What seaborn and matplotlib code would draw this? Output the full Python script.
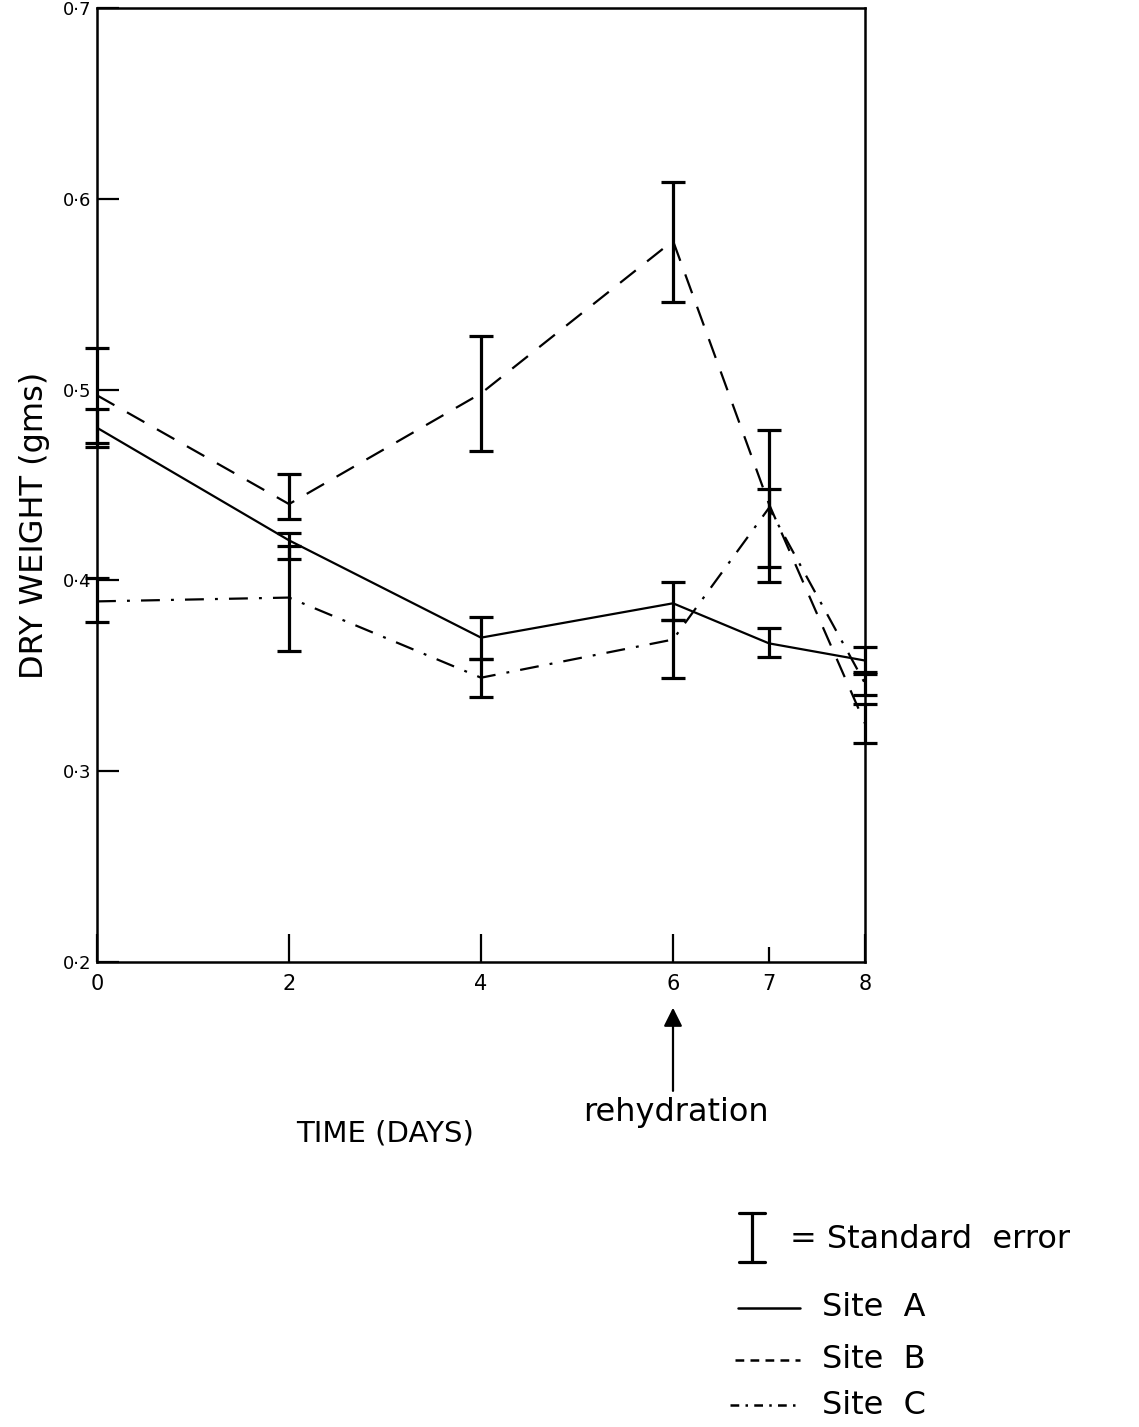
import matplotlib
matplotlib.use("Agg")
import matplotlib.pyplot as plt
from matplotlib.lines import Line2D
import pandas as pd
import seaborn as sns

# Sampling days
days = [0, 2, 4, 6, 7, 8]

# Mean dry weight (g) per site
site_a = [0.480, 0.421, 0.370, 0.388, 0.367, 0.358]
site_b = [0.497, 0.440, 0.498, 0.578, 0.440, 0.325]
site_c = [0.389, 0.391, 0.349, 0.369, 0.438, 0.346]

# Standard error below / above each mean
site_a_lo = [0.010, 0.010, 0.011, 0.009, 0.007, 0.007]
site_a_hi = [0.010, 0.004, 0.011, 0.011, 0.008, 0.007]
site_b_lo = [0.025, 0.008, 0.030, 0.032, 0.041, 0.010]
site_b_hi = [0.025, 0.016, 0.030, 0.031, 0.039, 0.010]
site_c_lo = [0.011, 0.028, 0.010, 0.020, 0.031, 0.006]
site_c_hi = [0.012, 0.027, 0.010, 0.010, 0.010, 0.006]

site_names = ["Site A", "Site B", "Site C"]
y_ticks = [0.2, 0.3, 0.4, 0.5, 0.6, 0.7]
y_tick_labels = ["0·2", "0·3", "0·4", "0·5", "0·6", "0·7"]
x_tick_labels = ["0", "2", "4", "6", "7", "8"]

sns.set_style("white")
plt.rcParams["font.family"] = ["DejaVu Sans"]
plt.rcParams["text.color"] = "black"
plt.rcParams["xtick.color"] = "black"
plt.rcParams["ytick.color"] = "black"
plt.rcParams["axes.labelcolor"] = "black"

W, H = 1139, 1427
fig = plt.figure(figsize=(W / 100, H / 100), dpi=100)
ax = fig.add_axes([97 / W, 1 - 962 / H, 768 / W, 954 / H])

df = pd.DataFrame({
    "day": days * 3,
    "weight": site_a + site_b + site_c,
    "site": [n for n in site_names for _ in days],
})

line_dashes = {"Site A": "", "Site B": (9, 6.5), "Site C": (8.5, 5, 1.3, 5)}
sns.lineplot(data=df, x="day", y="weight", style="site", dashes=line_dashes,
             color="black", linewidth=1.6, legend=False, ax=ax)

for vals, lo, hi in [(site_a, site_a_lo, site_a_hi),
                     (site_b, site_b_lo, site_b_hi),
                     (site_c, site_c_lo, site_c_hi)]:
    cont = ax.errorbar(days, vals, yerr=[lo, hi], fmt="none", ecolor="black",
                       elinewidth=2.3, capsize=8.5, capthick=2.3)
    for child in cont.get_children():
        child.set_clip_on(False)

ax.set_xlim(0, 8)
ax.set_ylim(0.2, 0.7)
ax.set_xticks(days)
ax.set_xticklabels(x_tick_labels, fontsize=15)
ax.set_yticks(y_ticks)
ax.set_yticklabels(y_tick_labels, fontsize=13)
ax.set_xlabel("")
ax.set_ylabel("")
ax.tick_params(axis="y", direction="in", length=16, width=1.6, pad=4, left=True)
ax.tick_params(axis="x", direction="in", length=20, width=1.6, pad=9, bottom=True)
ax.xaxis.get_major_ticks()[4].tick1line.set_markersize(11)
for sp in ax.spines.values():
    sp.set_linewidth(1.8)
    sp.set_color("black")

xt = ax.get_xaxis_transform()
ax.text(-0.081, 0.458, "DRY WEIGHT (gms)", transform=ax.transAxes, rotation=90,
        ha="center", va="center", fontsize=23)
ax.text(3.0, -0.18, "TIME (DAYS)", transform=xt, ha="center", va="center",
        fontsize=21)

# Rehydration marker below day 6
ax.annotate("", xy=(6, -0.045), xytext=(6, -0.138), xycoords=xt,
            arrowprops=dict(arrowstyle="-|>", color="black", lw=1.6,
                            mutation_scale=28), annotation_clip=False)
ax.text(6.03, -0.158, "rehydration", transform=xt, ha="center", va="center",
        fontsize=23)

# Key in the lower right corner
def fx(px):
    return px / W

def fy(py):
    return 1 - py / H

ft = fig.transFigure
fig.add_artist(Line2D([fx(752), fx(752)], [fy(1213), fy(1262)], transform=ft,
                      color="black", lw=2.3))
for yy in (1213, 1262):
    fig.add_artist(Line2D([fx(739), fx(765)], [fy(yy), fy(yy)], transform=ft,
                          color="black", lw=2.3))
fig.text(fx(790), fy(1240), "= Standard  error", ha="left", va="center",
         fontsize=23)

key_rows = [(1308, "Site  A", "", 738), (1360, "Site  B", (3.5, 2.5), 735),
            (1405, "Site  C", (3.5, 2.5, 1, 2.5), 730)]
for yy, label, dash, x0 in key_rows:
    ln = Line2D([fx(x0), fx(800)], [fy(yy), fy(yy)], transform=ft,
                color="black", lw=1.8)
    if dash:
        ln.set_dashes(dash)
    fig.add_artist(ln)
    fig.text(fx(822), fy(yy), label, ha="left", va="center", fontsize=23)

fig.savefig("out.png", dpi=100, facecolor="white")
